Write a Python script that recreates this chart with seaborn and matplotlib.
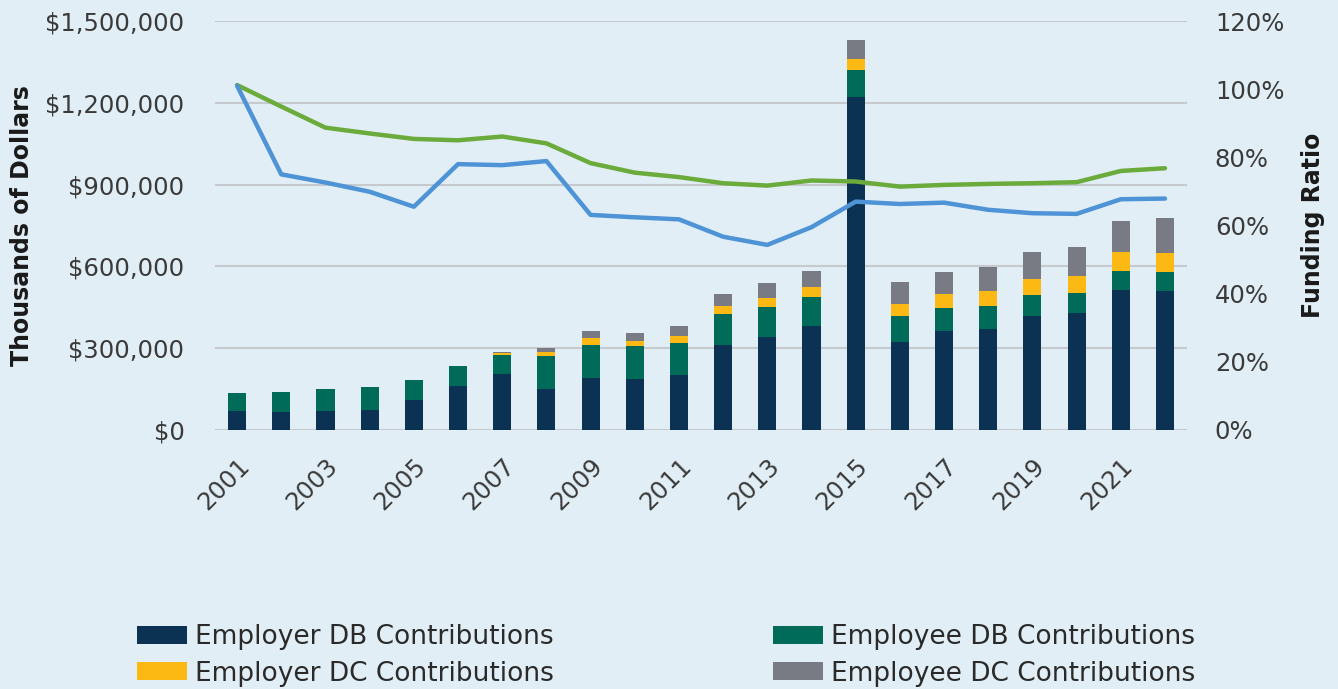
import numpy as np
import pandas as pd
import matplotlib.pyplot as plt
import seaborn as sns
from matplotlib.patches import Patch
from matplotlib.ticker import FuncFormatter

years = [str(y) for y in range(2001, 2023)]
employer_db = [69000, 66000, 69000, 73000, 109000, 161000, 205000, 151000, 192000, 186000, 203000,
               313000, 342000, 380000, 1222000, 322000, 363000, 369000, 418000, 428000, 512000, 511000]
employee_db = [68000, 73000, 82000, 86000, 75000, 75000, 69000, 120000, 120000, 123000, 117000,
               111000, 110000, 109000, 98000, 97000, 86000, 86000, 78000, 74000, 72000, 67000]
employer_dc = [0, 0, 0, 0, 0, 0, 9000, 16000, 26000, 18000, 25000,
               31000, 31000, 34000, 39000, 43000, 49000, 55000, 57000, 64000, 68000, 72000]
employee_dc = [0, 0, 0, 0, 0, 0, 3000, 12000, 25000, 30000, 36000,
               43000, 55000, 60000, 71000, 79000, 83000, 89000, 99000, 106000, 116000, 126000]
ratio_green = [101.2, 94.9, 88.7, 87.0, 85.4, 85.0, 86.1, 84.1, 78.3, 75.5, 74.2,
               72.4, 71.7, 73.2, 72.9, 71.4, 71.9, 72.2, 72.4, 72.7, 76.0, 76.8]
ratio_blue = [101.0, 75.0, 72.6, 69.9, 65.5, 78.0, 77.7, 78.9, 63.1, 62.4, 61.8,
              56.7, 54.3, 59.5, 67.0, 66.3, 66.7, 64.6, 63.6, 63.4, 67.7, 67.9]

series = ["Employer DB Contributions", "Employee DB Contributions",
          "Employer DC Contributions", "Employee DC Contributions"]
colors = ["#0b3252", "#006b58", "#fdb913", "#797b84"]
bg = "#e1eef5"

df = pd.DataFrame({"year": years, series[0]: employer_db, series[1]: employee_db,
                   series[2]: employer_dc, series[3]: employee_dc})
cum = df[series].cumsum(axis=1)

sns.set_style("white")
plt.rcParams["font.family"] = ["DejaVu Sans"]

fig = plt.figure(figsize=(13.38, 6.89), dpi=100, facecolor=bg)
ax = fig.add_axes([0.1607, 0.376, 0.7265, 0.5935])
ax.set_facecolor(bg)

# stacked bars: draw cumulative totals from the top down
for name, col in reversed(list(zip(series, colors))):
    sns.barplot(x=df["year"], y=cum[name], color=col, saturation=1, width=0.41,
                linewidth=0, ax=ax, zorder=3)

ax.set_xlim(-0.5, len(years) - 0.5)
ax.set_ylim(0, 1500000)
ax.set_yticks(np.arange(0, 1500001, 300000))
ax.yaxis.set_major_formatter(FuncFormatter(lambda v, p: f"${v:,.0f}"))
ax.grid(axis="y", color="#c6cacf", linewidth=1.5, zorder=0)
ax.set_axisbelow(True)
ax.set_xticks(range(0, len(years), 2))
ax.set_xticklabels(years[::2], rotation=45, ha="right", rotation_mode="anchor")
ax.tick_params(axis="both", length=0, labelsize=17.5, labelcolor="#3a3a3a")
ax.tick_params(axis="x", pad=17)
ax.tick_params(axis="y", pad=22)
ax.set_xlabel("")
ax.set_ylabel("Thousands of Dollars", fontsize=17, fontweight="bold", color="#1a1a1a", labelpad=8)
for s in ax.spines.values():
    s.set_visible(False)

ax2 = ax.twinx()
xs = np.arange(len(years))
sns.lineplot(x=xs, y=ratio_green, color="#6aab3b", linewidth=3.2, ax=ax2, zorder=4)
sns.lineplot(x=xs, y=ratio_blue, color="#4d93d6", linewidth=3.2, ax=ax2, zorder=4)
ax2.set_ylim(0, 120)
ax2.set_yticks(np.arange(0, 121, 20))
ax2.yaxis.set_major_formatter(FuncFormatter(lambda v, p: f"{v:.0f}%"))
ax2.tick_params(axis="y", length=0, labelsize=17.5, labelcolor="#3a3a3a", pad=20)
ax2.set_ylabel("Funding Ratio", fontsize=17, fontweight="bold", color="#1a1a1a", labelpad=12)
for s in ax2.spines.values():
    s.set_visible(False)

# legend is filled column by column, so order it to read row by row
order = [0, 2, 1, 3]
handles = [Patch(facecolor=colors[i], edgecolor="none") for i in order]
labels = [series[i] for i in order]
fig.legend(handles, labels, loc="upper left", bbox_to_anchor=(137 / 1338, 1 - 624 / 689),
           ncol=2, frameon=False, fontsize=19, handlelength=1.9, handleheight=0.65,
           handletextpad=0.3, columnspacing=8.3, labelspacing=0.4, borderpad=0,
           borderaxespad=0, labelcolor="#2a2a2a")

fig.savefig("out.png", dpi=100, facecolor=bg)
